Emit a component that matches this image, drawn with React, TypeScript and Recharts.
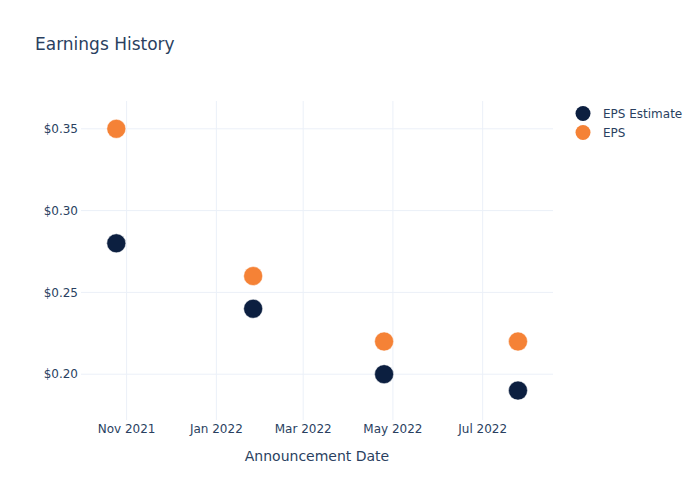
import React from 'react';
import { ScatterChart, Scatter, XAxis, YAxis, CartesianGrid } from 'recharts';

const announceDates = ['2021-10-25', '2022-01-26', '2022-04-25', '2022-07-25'];
const epsEstimate = [0.28, 0.24, 0.2, 0.19];
const epsActual = [0.35, 0.26, 0.22, 0.22];

const xTickDates = ['2021-11-01', '2022-01-01', '2022-03-01', '2022-05-01', '2022-07-01'];
const xTickLabels = ['Nov 2021', 'Jan 2022', 'Mar 2022', 'May 2022', 'Jul 2022'];
const yTicks = [0.2, 0.25, 0.3, 0.35];

const toTs = (d: string) => Date.parse(d + 'T00:00:00Z');

const estimateData = announceDates.map((d, i) => ({ date: toTs(d), value: epsEstimate[i] }));
const epsData = announceDates.map((d, i) => ({ date: toTs(d), value: epsActual[i] }));
const xTicks = xTickDates.map(toTs);

const NAVY = '#0c1f40';
const ORANGE = '#f58236';
const TEXT = '#2a3f5f';
const FONT = '"DejaVu Sans", sans-serif';

const dot = (color: string) => (props: any) => (
  <circle cx={props.cx} cy={props.cy} r={9.5} fill={color} stroke="#ffffff" strokeWidth={0.5} />
);

const legendItems = [
  { name: 'EPS Estimate', color: NAVY },
  { name: 'EPS', color: ORANGE },
];

export default function App() {
  return (
    <div style={{ position: 'absolute', left: 0, top: 0, width: 700, height: 500, background: '#fff', fontFamily: FONT }}>
      <div style={{ position: 'absolute', left: 35, top: 34, fontSize: 17, color: TEXT }}>Earnings History</div>
      <div style={{ position: 'absolute', left: 575, top: 104, fontSize: 12, color: TEXT }}>
        {legendItems.map((it) => (
          <div key={it.name} style={{ display: 'flex', alignItems: 'center', height: 19 }}>
            <svg width={20} height={19}>
              <circle cx={8} cy={9.5} r={7.5} fill={it.color} />
            </svg>
            <span style={{ marginLeft: 8 }}>{it.name}</span>
          </div>
        ))}
      </div>
      <ScatterChart width={700} height={500} margin={{ top: 101, right: 147, bottom: 0, left: 0 }}>
        <CartesianGrid stroke="#ebf0f8" strokeWidth={1} syncWithTicks />
        <XAxis
          type="number"
          dataKey="date"
          domain={[toTs('2021-10-01'), toTs('2022-08-17') + 19 * 3600000]}
          ticks={xTicks}
          tickFormatter={(v: number) => xTickLabels[xTicks.indexOf(v)] ?? ''}
          axisLine={false}
          tickLine={false}
          tickSize={0}
          height={80}
          tick={{ fill: TEXT, fontSize: 12, fontFamily: FONT }}
          tickMargin={4}
          label={{ value: 'Announcement Date', position: 'insideTop', offset: 31, fill: TEXT, fontSize: 14, fontFamily: FONT }}
          allowDataOverflow
        />
        <YAxis
          type="number"
          dataKey="value"
          domain={[0.172, 0.367]}
          ticks={yTicks}
          tickFormatter={(v: number) => '$' + v.toFixed(2)}
          axisLine={false}
          tickLine={false}
          tickSize={0}
          width={81}
          tick={{ fill: TEXT, fontSize: 12, fontFamily: FONT }}
          tickMargin={3}
          allowDataOverflow
        />
        <Scatter name="EPS Estimate" data={estimateData} fill={NAVY} shape={dot(NAVY)} isAnimationActive={false} />
        <Scatter name="EPS" data={epsData} fill={ORANGE} shape={dot(ORANGE)} isAnimationActive={false} />
      </ScatterChart>
    </div>
  );
}
